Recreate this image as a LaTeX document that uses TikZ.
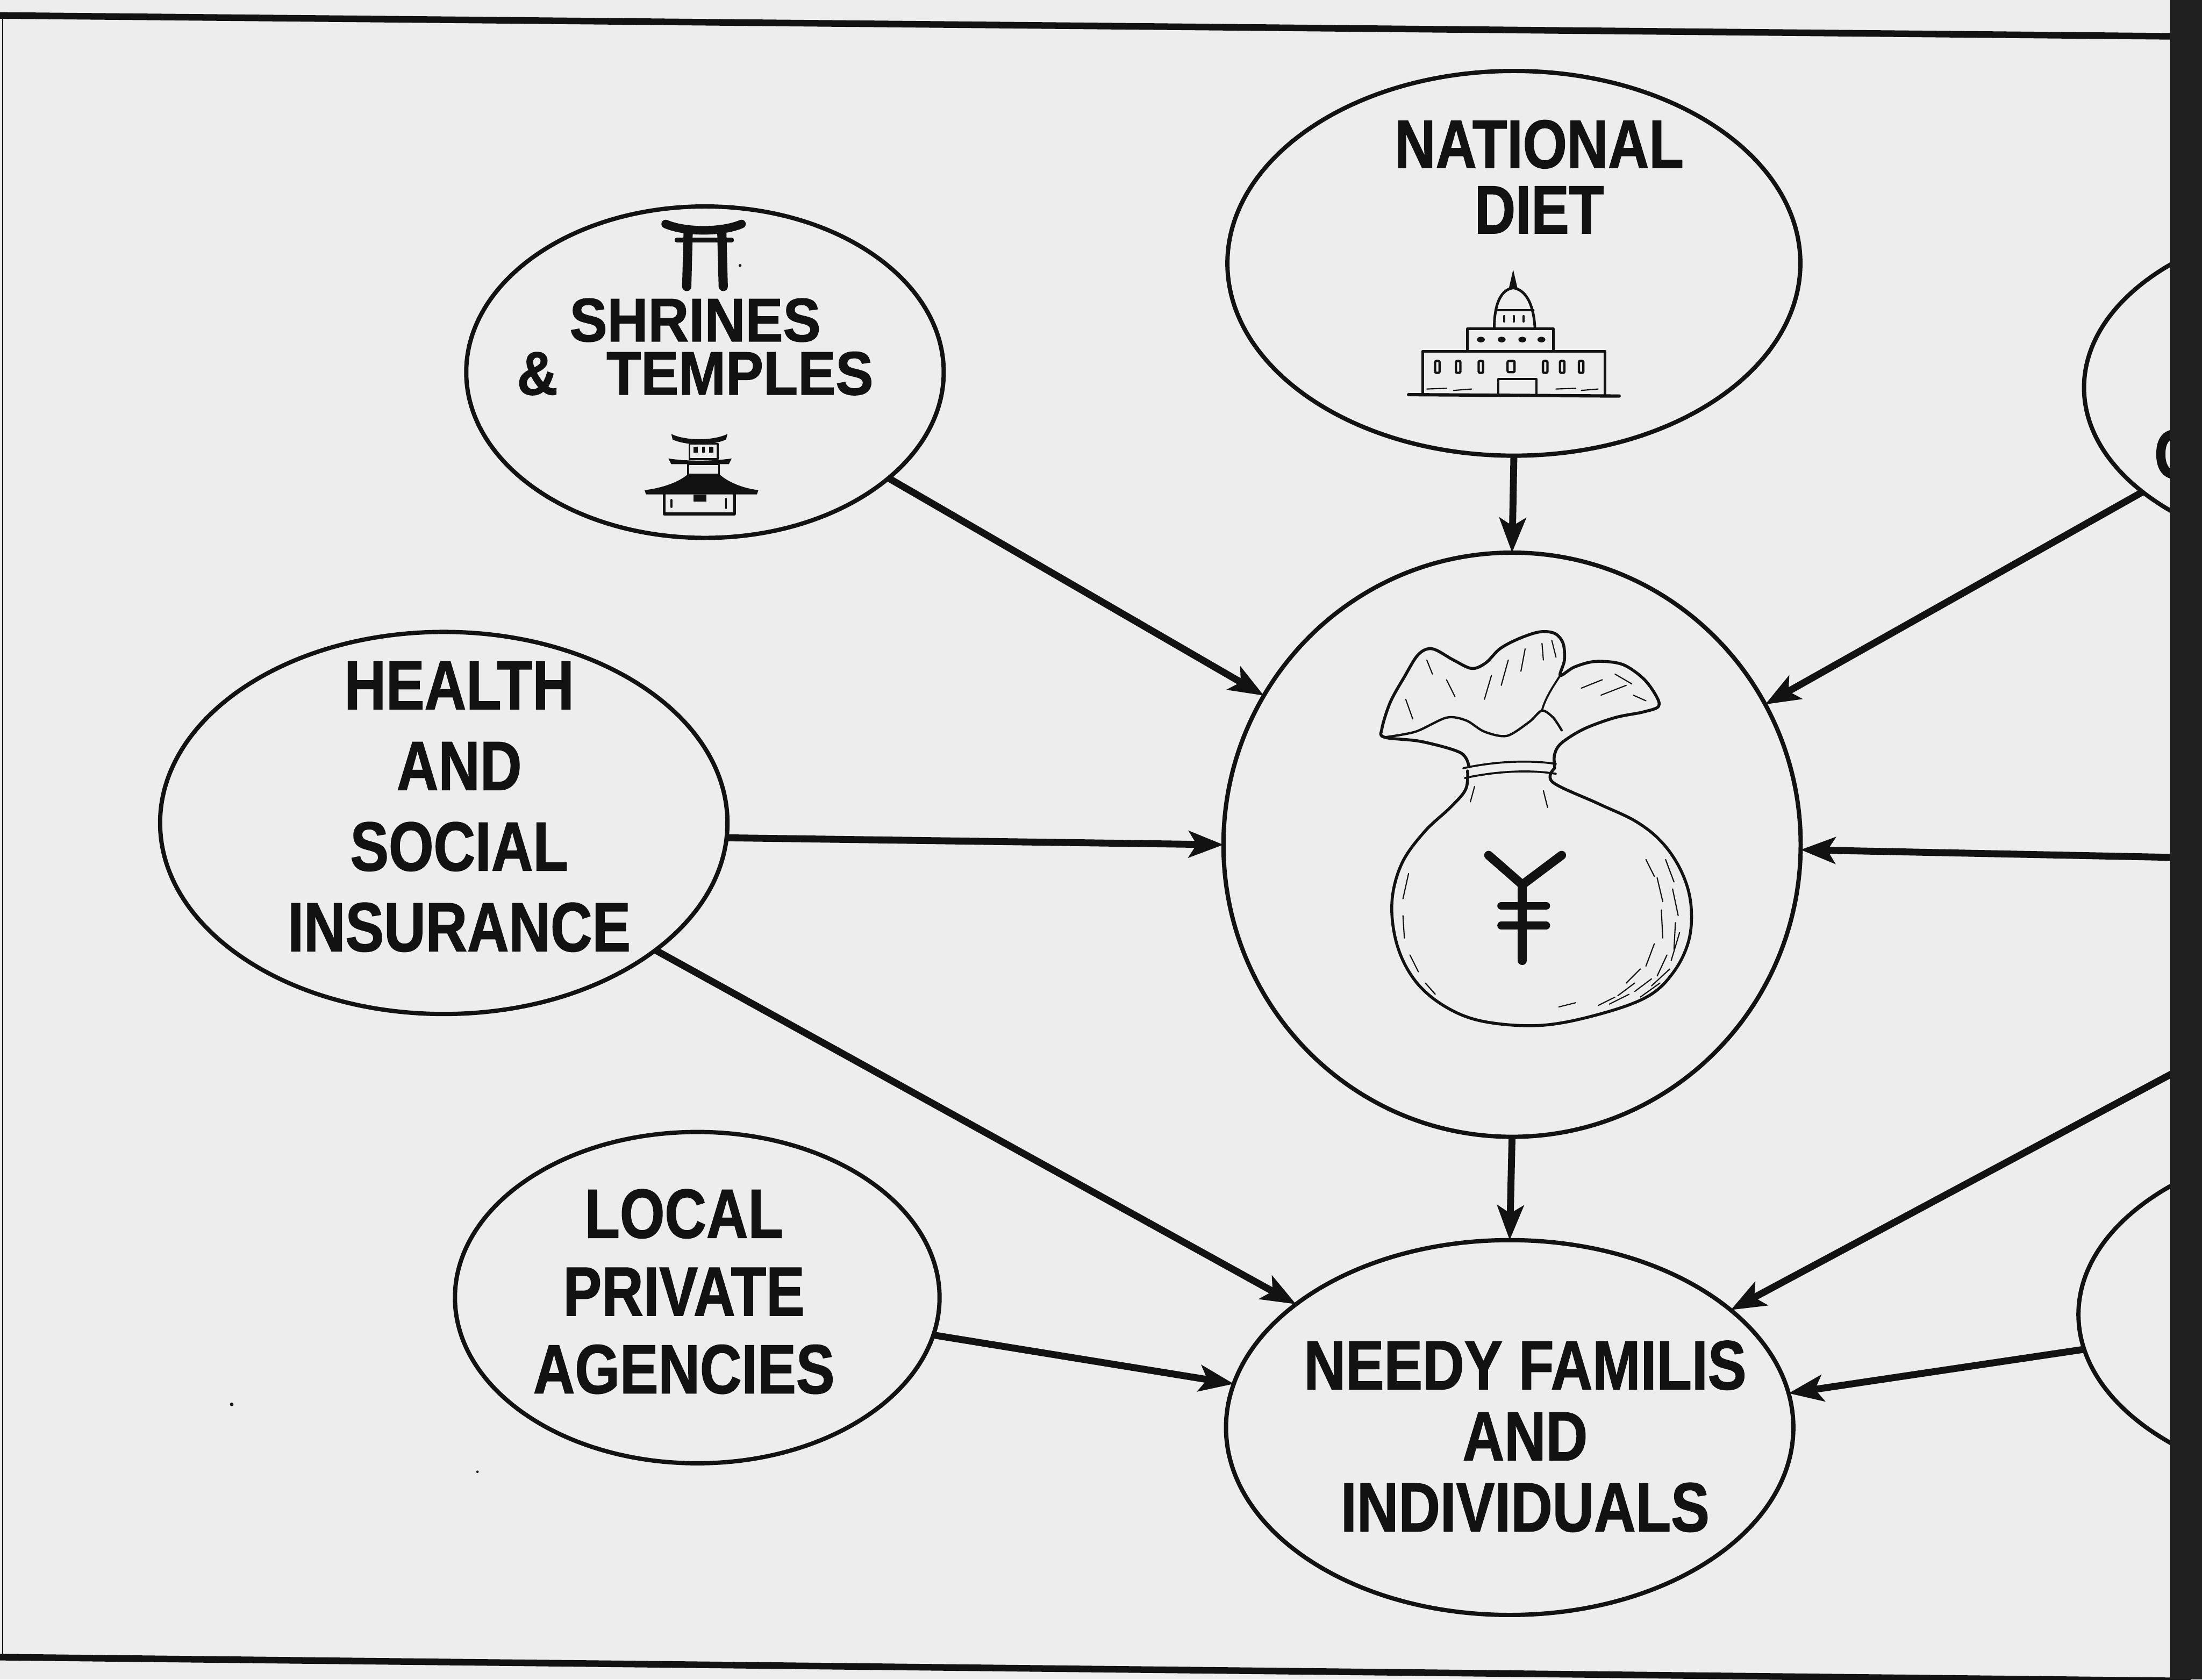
\documentclass[tikz,border=0pt]{standalone}
\usepackage{fontspec}
\setmainfont{Liberation Sans}
\newfontfamily\letterfont[FakeStretch=0.83,FakeBold=1.2]{Liberation Sans}
\newfontfamily\shrinefont[FakeStretch=0.92,FakeBold=1.2]{Liberation Sans}
\usetikzlibrary{arrows.meta,shapes.geometric}

\definecolor{paper}{RGB}{237,237,237}
\definecolor{ink}{RGB}{18,18,18}

\tikzset{
  bubble/.style={ellipse, draw=ink, line width=1.3mm, inner sep=0pt, outer sep=0pt},
  feedarrow/.style={draw=ink, line width=2.1mm,
    -{Stealth[length=10.5mm,width=8mm,inset=2.4mm]}},
  caption/.style={inner sep=0pt, outer sep=0pt, align=center, text=ink, anchor=north},
  sketch/.style={draw=ink, line width=0.6mm, line cap=round, line join=round},
  hatch/.style={draw=ink, line width=0.35mm, line cap=round},
  frameline/.style={draw=ink, line width=2mm},
}

\begin{document}
\begin{tikzpicture}[x=0.426mm, y=-0.426mm]
\useasboundingbox (0,0) rectangle (1568,1196);
\fill[paper] (0,0) rectangle (1568,1196);

% sheet frame
\draw[frameline] (0,11) -- (1560,26);
\draw[frameline] (0,1180) -- (1560,1197);
\draw[ink, line width=0.4mm] (2,11) -- (2,1180);

% bubbles
\node[bubble, minimum width=144.84mm, minimum height=100.54mm] (shrines) at (502,265) {};
\node[bubble, minimum width=173.8mm, minimum height=116.7mm] (diet) at (1078,187.5) {};
\node[bubble, minimum width=165.3mm, minimum height=102.2mm] (govt) at (1678,276) {};
\node[bubble, minimum width=175.1mm, minimum height=177.2mm] (money) at (1076.7,601.5) {};
\node[bubble, minimum width=172.1mm, minimum height=115.9mm] (health) at (316,586) {};
\node[bubble, minimum width=147.0mm, minimum height=100.5mm] (local) at (496.5,924) {};
\node[bubble, minimum width=172.1mm, minimum height=113.7mm] (needy) at (1075,1016.5) {};
\node[bubble, minimum width=175.5mm, minimum height=106.5mm] (other) at (1686,936) {};

% captions
\node[caption, font=\shrinefont\bfseries\fontsize{53pt}{46pt}\selectfont] (shrinestext) at (495,212.5)
  {SHRINES\\\&\hspace{42pt}TEMPLES};
\node[caption, font=\letterfont\bfseries\fontsize{59pt}{56.6pt}\selectfont] (diettext) at (1096,85.5)
  {NATIONAL\\DIET};
\node[caption, font=\letterfont\bfseries\fontsize{60pt}{69.6pt}\selectfont] (healthtext) at (327,471)
  {HEALTH\\AND\\SOCIAL\\INSURANCE};
\node[caption, font=\letterfont\bfseries\fontsize{60pt}{67.1pt}\selectfont] (localtext) at (487,846.8)
  {LOCAL\\PRIVATE\\AGENCIES};
\node[caption, font=\letterfont\bfseries\fontsize{60pt}{61.3pt}\selectfont] (needytext) at (1086,954.7)
  {NEEDY FAMILIS\\AND\\INDIVIDUALS};
\node[caption, anchor=north west, font=\letterfont\bfseries\fontsize{60pt}{60pt}\selectfont] (govttext) at (1534,306) {C};

% free ends of the connectors that enter from the right
\coordinate (edgeA) at (1570,611);
\coordinate (edgeB) at (1570,752);

% connectors
\draw[feedarrow] (shrines.-30.3) -- (money.149.4);
\draw[feedarrow] (diet.south) -- (money.north);
\draw[feedarrow] (govt.206.5) -- (money.29.2);
\draw[feedarrow] (health.-3.1) -- (money.180.3);
\draw[feedarrow] (edgeA) -- (money.-1.25);
\draw[feedarrow] (health.-31.3) -- (needy.150.4);
\draw[feedarrow] (money.south) -- (needy.north);
\draw[feedarrow] (edgeB) -- (needy.28.2);
\draw[feedarrow] (local.-9.8) -- (needy.171.5);
\draw[feedarrow] (other.187.6) -- (needy.7.3);

% torii gate
\draw[ink, line width=2.6mm, line cap=round] (474,159.5) .. controls (488,165.5) and (514,165.5) .. (528,159.5);
\draw[ink, line width=1.4mm, line cap=round] (482,171) -- (521,171);
\draw[ink, line width=2.8mm, line cap=round] (490,166) -- (489,204);
\draw[ink, line width=2.8mm, line cap=round] (514,166) -- (515,204);
\fill[ink] (527,189) circle (1);

% pagoda
\fill[ink] (478,309) .. controls (488,314) and (508,314) .. (518,309) -- (517,313)
  .. controls (507,317.5) and (489,317.5) .. (479,313) -- cycle;
\draw[sketch] (491,316) rectangle (511,327);
\fill[ink] (494,318) rectangle (497,322.5);
\fill[ink] (500,318) rectangle (502,322.5);
\fill[ink] (505,318) rectangle (508,322.5);
\fill[ink] (476,326.5) .. controls (490,328.5) and (506,328.5) .. (521,326.5) -- (519,330.5) -- (478,330.5) -- cycle;
\draw[sketch] (490,330.5) rectangle (512,338);
\fill[ink] (459,349) .. controls (472,347.5) and (484,343) .. (490,337.5) -- (512,337.5)
  .. controls (518,343) and (528,347.5) .. (540,349) -- (539,352) -- (460,352) -- cycle;
\draw[sketch, line width=0.9mm] (473,352) -- (473,366) -- (523,366) -- (523,352);
\fill[ink] (494,352) rectangle (503,357);
\draw[sketch] (478,356) -- (478,361);
\draw[sketch] (517,355) -- (517,362);

% parliament building
\fill[ink] (1077.5,192) -- (1074.5,205) -- (1080.5,205) -- cycle;
\draw[sketch, line width=0.8mm] (1064,234) .. controls (1064,214) and (1070,206) .. (1077.5,205)
  .. controls (1085,206) and (1092,214) .. (1093,234);
\draw[sketch] (1066,221) -- (1092,221);
\draw[sketch] (1071,225) -- (1071,229);
\draw[sketch] (1078,225) -- (1078,229);
\draw[sketch] (1085,225) -- (1085,229);
\draw[sketch, line width=0.8mm] (1045,249) -- (1045,234) -- (1106,234) -- (1106,249);
\foreach \wx in {1054.5,1069.3,1084,1097.6}
  \fill[ink] (\wx,241.8) ellipse (2.8 and 2);
\draw[sketch, line width=0.8mm] (1013,281) -- (1013,250) -- (1143,250) -- (1143,281);
\foreach \wx in {1023.5,1038.3,1054.5,1100.3,1112.4,1125.9}
  \draw[sketch, line width=0.7mm, rounded corners=0.4mm] (\wx-1.6,257) rectangle (\wx+1.6,265.5);
\draw[sketch, line width=0.7mm, rounded corners=0.4mm] (1073.5,257) rectangle (1078.5,265);
\draw[sketch] (1067,281) -- (1067,270) -- (1094,270) -- (1094,281);
\draw[sketch, line width=1mm] (1003,281) -- (1153,282);
\draw[hatch] (1016,277) -- (1030,276.5);
\draw[hatch] (1035,278) -- (1048,277);
\draw[hatch] (1108,277) -- (1122,276.5);
\draw[hatch] (1126,278) -- (1138,277);

% money bag
\draw[sketch, line width=0.9mm] plot[smooth, tension=0.6] coordinates {
  (1045,549) (1043.7,562) (1032.9,574.8) (1014,592.6) (997.9,615.5) (991.1,643.5)
  (995.2,674.1) (1008.6,699.5) (1030.2,717.4) (1057.2,727.5) (1097.6,730.1)
  (1138,722.4) (1173,709.7) (1191.9,691.9) (1202.7,669) (1204,643.5) (1197.3,620.6)
  (1183.8,600.2) (1165,585) (1138,572.2) (1105.7,557) (1107,547)};
\draw[sketch, line width=0.9mm] plot[smooth, tension=0.55] coordinates {
  (1046,546) (1040,536) (1012,528) (986,525) (984,519) (990,500) (1000,482)
  (1010,466) (1020,462) (1035,470) (1048,476) (1058,472) (1068,462) (1081,455)
  (1096,450) (1107,451) (1113,458) (1114,470) (1111,481) (1121,475) (1136,471)
  (1155,473) (1170,483) (1179,495) (1181,503) (1170,507) (1150,511) (1128,519)
  (1112,529) (1107,537) (1107,546)};
\draw[sketch, line width=0.7mm] plot[smooth] coordinates {
  (986,525) (1008,521) (1030,511) (1044,513) (1057,521) (1073,524) (1089,514)
  (1098,506) (1106,511) (1112,520)};
\draw[sketch] (1111,481) .. controls (1105,490) and (1100,498) .. (1098,506);
\draw[sketch] (1042,547) .. controls (1065,542) and (1090,541) .. (1108,544);
\draw[sketch] (1043,554) .. controls (1066,549) and (1090,548) .. (1108,551);
% shading strokes
\foreach \ax/\ay/\bx/\by in {
  1186/612/1192/628, 1191/633/1195/652, 1193/657/1192/676, 1187/680/1180/695,
  1176/697/1164/706, 1160/708/1146/715, 1180/625/1184/642, 1183/648/1184/668,
  1178/672/1172/688, 1168/690/1158/700, 1172/612/1178/624, 1150/710/1138/716,
  1189/690/1176/702, 1182/700/1168/710, 1196/664/1190/684, 1164/700/1152/709,
  1003/622/999/640, 999/652/1000/668, 1004/680/1010/692, 1015/700/1022/708,
  1050/560/1047/571, 1099/563/1102/575, 1110/717/1122/714,
  1062/481/1057/498, 1074/470/1069/488, 1086/462/1083/478, 1098/458/1099/470,
  1126/490/1141/484, 1140/495/1158/488, 1001/498/1006/512, 1030/484/1036/496,
  1016/470/1020/480, 1150/480/1162/487, 1105/456/1108/468, 1163/495/1172/499}
  \draw[hatch] (\ax,\ay) -- (\bx,\by);
% yen sign
\draw[ink, line width=2.7mm, line cap=round, line join=round]
  (1060,609) -- (1084,630) -- (1112,609);
\draw[ink, line width=2.7mm, line cap=round] (1084,630) -- (1084,684);
\draw[ink, line width=2.4mm, line cap=round] (1069,645) -- (1101,645);
\draw[ink, line width=2.4mm, line cap=round] (1069,659) -- (1101,659);

% specks on the sheet
\fill[ink] (165,1000) circle (1.3);
\fill[ink] (340,1048) circle (0.9);

% dark strip along the right edge
\fill[black!88] (1545,0) rectangle (1568,1196);
\end{tikzpicture}
\end{document}
